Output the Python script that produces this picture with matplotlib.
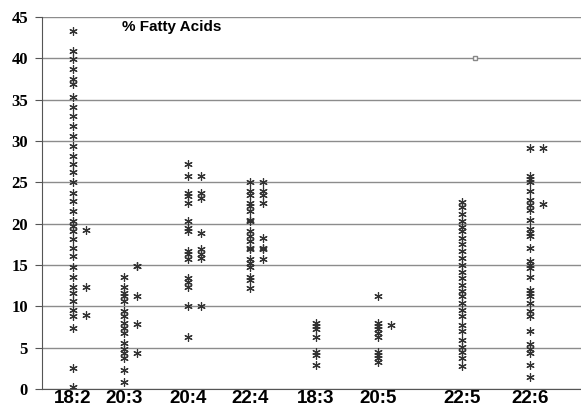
import matplotlib.pyplot as plt

# fatty acid classes along the x axis
categories = ['18:2', '20:3', '20:4', '22:4', '18:3', '20:5', '22:5', '22:6']

# % of total fatty acids, main column and offset column per class
fa_18_2 = [43.3, 40.9, 39.9, 38.7, 37.5, 36.9, 35.3, 34.1, 33.0, 31.8, 30.6, 29.4,
           28.2, 27.2, 26.2, 25.0, 23.7, 22.7, 21.5, 20.3, 19.7, 19.1, 18.1, 17.1,
           16.1, 14.8, 13.6, 12.4, 11.6, 10.6, 9.6, 8.8, 7.4, 2.5, 0.3]
fa_18_2_b = [19.2, 12.3, 8.9]
fa_20_3 = [13.6, 12.4, 11.6, 11.2, 10.6, 9.4, 8.8, 8.0, 7.4, 6.8, 5.6, 4.9, 4.4,
           3.8, 2.3, 0.8]
fa_20_3_b = [14.9, 14.9, 11.2, 7.9, 4.3]
fa_20_4 = [27.2, 25.8, 23.7, 23.3, 22.5, 20.3, 19.5, 19.1, 16.7, 16.3, 15.7, 13.4,
           13.0, 12.4, 10.0, 6.3]
fa_20_4_b = [25.8, 23.7, 23.1, 18.9, 16.9, 16.3, 15.9, 10.0]
fa_22_4 = [25.0, 23.9, 23.5, 22.5, 22.1, 21.5, 20.5, 20.3, 19.1, 18.5, 17.9, 17.1,
           16.9, 15.7, 15.3, 14.8, 13.6, 13.2, 12.2]
fa_22_4_b = [25.0, 23.9, 23.5, 22.5, 18.3, 17.1, 16.9, 15.7]
fa_18_3 = [8.0, 7.6, 7.2, 6.3, 4.5, 4.1, 2.9]
fa_18_3_b = []
fa_20_5 = [11.2, 8.0, 7.6, 7.2, 6.8, 6.3, 4.5, 4.1, 3.7, 3.3]
fa_20_5_b = [7.8]
fa_22_5 = [22.6, 22.0, 21.2, 20.3, 19.6, 19.1, 18.3, 17.5, 16.7, 15.9, 15.0, 14.2,
           13.4, 12.6, 11.8, 11.2, 10.4, 9.6, 8.8, 7.8, 7.0, 5.9, 5.1, 4.5, 3.7, 2.8]
fa_22_5_b = []
fa_22_6 = [29.2, 25.8, 25.4, 25.0, 23.9, 22.9, 22.3, 21.7, 20.5, 19.3, 18.9, 18.5,
           17.1, 15.5, 15.0, 14.6, 13.6, 12.0, 11.6, 11.2, 10.4, 9.4, 8.8, 7.0, 5.5,
           4.9, 4.3, 2.9, 1.5]
fa_22_6_b = [29.2, 22.4]
square_val = 40.0  # single square marker at 22:5

main_cols = [fa_18_2, fa_20_3, fa_20_4, fa_22_4, fa_18_3, fa_20_5, fa_22_5, fa_22_6]
side_cols = [fa_18_2_b, fa_20_3_b, fa_20_4_b, fa_22_4_b, fa_18_3_b, fa_20_5_b,
             fa_22_5_b, fa_22_6_b]

# column centres (uneven, as in the original sheet)
xpos = [0.57, 1.52, 2.70, 3.85, 5.07, 6.22, 7.78, 9.04]
side_off = 0.24

fig = plt.figure(figsize=(5.81, 4.07), dpi=100)
ax = fig.add_axes([0.0723, 0.0442, 0.9277, 0.914])

star = dict(linestyle='none', marker=(6, 2, 0), markersize=6,
            markeredgewidth=0.85, color='#333333')
for x, vals in zip(xpos, main_cols):
    ax.plot([x] * len(vals), vals, **star)
for x, vals in zip(xpos, side_cols):
    if vals:
        ax.plot([x + side_off] * len(vals), vals, **star)

ax.plot([xpos[6] + side_off], [square_val], linestyle='none', marker='s',
        markersize=3.5, markerfacecolor='white', markeredgecolor='#888888',
        markeredgewidth=1.0)

ax.set_xlim(0, 9.98)
ax.set_ylim(0, 45)
ax.set_yticks(range(0, 46, 5))
ax.set_yticklabels([str(v) for v in range(0, 46, 5)], fontfamily='Liberation Serif',
                   fontweight='bold', fontsize=12)
ax.set_xticks(xpos)
ax.set_xticklabels(categories, fontfamily='Liberation Sans', fontweight='bold',
                   fontsize=13.5)

ax.grid(axis='y', color='#8c8c8c', linewidth=1.0)
ax.set_axisbelow(True)
for s in ['top', 'right']:
    ax.spines[s].set_visible(False)
ax.spines['left'].set_color('#555555')
ax.spines['bottom'].set_color('#555555')
ax.tick_params(axis='y', length=5, color='#555555', pad=5)
ax.tick_params(axis='x', length=0, pad=1)

ax.text(0.148, 0.972, '% Fatty Acids', transform=ax.transAxes, va='center',
        ha='left', fontfamily='Liberation Sans', fontweight='bold', fontsize=11)

fig.savefig('out.png', dpi=100)
